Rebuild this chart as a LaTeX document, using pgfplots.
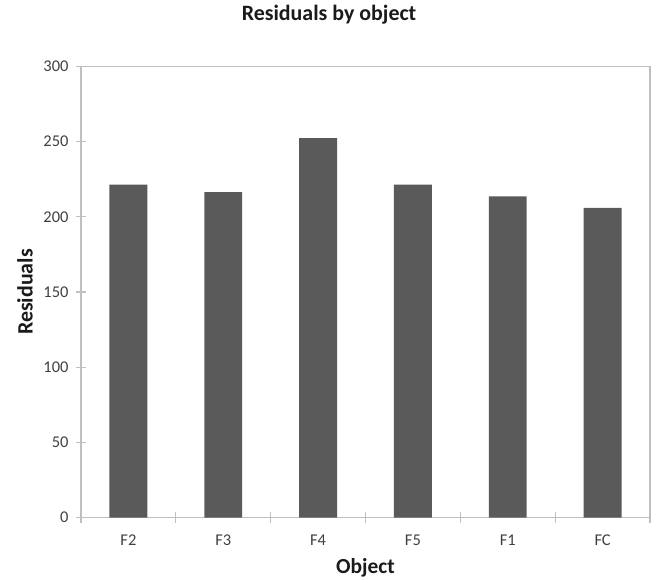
\documentclass[border=0pt]{standalone}
\usepackage{pgfplots}
\pgfplotsset{compat=1.18}
\usepackage{fontspec}
\setmainfont{Carlito}
\definecolor{barcol}{HTML}{5A5A5A}
\definecolor{axcol}{HTML}{BFBFBF}
\definecolor{tickcol}{HTML}{404040}
\definecolor{labcol}{HTML}{1A1A1A}
\begin{document}
\begin{tikzpicture}
\path[use as bounding box] (0bp,0bp) rectangle (656bp,580bp);
\begin{axis}[
  at={(81bp,62.5bp)}, anchor=south west,
  scale only axis, width=569bp, height=451bp,
  xmin=-0.5, xmax=5.5, ymin=0, ymax=300,
  ybar, bar width=0.4,
  xtick={0,...,5}, xticklabels={F2,F3,F4,F5,F1,FC},
  minor xtick={-0.5,0.5,...,5.5},
  ytick={0,50,...,300},
  tick pos=left, tick align=center,
  major tick length=10bp, minor tick length=10bp,
  major x tick style={draw=none},
  minor x tick style={draw=axcol, line width=1.2bp},
  major y tick style={draw=axcol, line width=1.2bp},
  axis line style={draw=axcol, line width=1.4bp},
  ticklabel style={font=\fontsize{16.5}{18}\selectfont, text=tickcol},
  xticklabel style={yshift=-9bp},
  yticklabel style={xshift=-4bp},
  /pgf/number format/assume math mode=true,
  title={Residuals by object},
  title style={at={(axis description cs:0.4359,1.1009)}, anchor=center, font=\bfseries\fontsize{22}{24}\selectfont, text=labcol},
  xlabel={Object},
  xlabel style={at={(axis description cs:0.5,-0.112)}, anchor=center, font=\bfseries\fontsize{21.5}{24}\selectfont, text=labcol},
  ylabel={Residuals},
  ylabel style={at={(axis description cs:-0.0984,0.5)}, anchor=center, font=\bfseries\fontsize{22}{24}\selectfont, text=labcol},
]
\addplot[fill=barcol, draw=none] coordinates {(0,221.4) (1,216.5) (2,252.3) (3,221.4) (4,213.6) (5,206.0)};
\end{axis}
\end{tikzpicture}
\end{document}
